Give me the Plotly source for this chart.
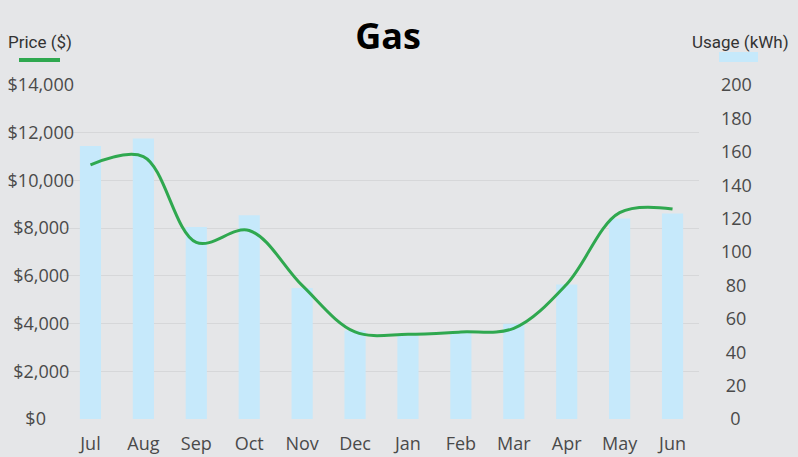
import plotly.graph_objects as go

# Données
months = ['Jul', 'Aug', 'Sep', 'Oct', 'Nov', 'Dec', 'Jan', 'Feb', 'Mar', 'Apr', 'May', 'Jun']
usage_kwh = [163.5, 168, 115, 122, 78.5, 53, 50, 52, 57, 80.5, 120, 123]
price_usd = [10650, 11000, 7400, 7900, 5600, 3650, 3550, 3650, 3800, 5650, 8650, 8800]

price_ticks = [0, 2000, 4000, 6000, 8000, 10000, 12000, 14000]
usage_ticks = [0, 20, 40, 60, 80, 100, 120, 140, 160, 180, 200]

bg = '#e5e6e8'
green = '#2fa84f'
blue = '#c6e9fb'
tick_font = dict(family='Open Sans', size=18, color='#4a4a4a')
NBSP = '\u00a0'

# Libellés centrés : on complète avec des espaces insécables
def price_label(v):
    txt = f'${v:,}'
    pad = round((7 - len(txt)) * 0.572 / 0.26 / 2) if len(txt) < 7 else 0
    return txt + NBSP * pad

def usage_label(v):
    txt = str(v)
    pad = round((3 - len(txt)) * 0.572 / 0.26 / 2)
    return NBSP * pad + txt

fig = go.Figure()

# Usage en barres (axe de droite), dessiné en dessous
fig.add_trace(go.Bar(name='Usage (kWh)', x=months, y=usage_kwh, marker_color=blue,
                     marker_line_width=0, width=0.4, yaxis='y'))

# Prix en courbe lissée (axe de gauche), dessiné au-dessus
fig.add_trace(go.Scatter(name='Price ($)', x=months, y=price_usd, mode='lines',
                         line=dict(color=green, width=3, shape='spline', smoothing=1),
                         yaxis='y2'))

fig.update_layout(
    width=798, height=457,
    margin=dict(l=64, r=99, t=85, b=38),
    paper_bgcolor=bg, plot_bgcolor=bg,
    showlegend=False,
    title=dict(text='<b>Gas</b>', x=388 / 798, xanchor='center', y=1 - 36 / 457, yanchor='middle',
               font=dict(family='Open Sans', size=36, color='#000000')),
    xaxis=dict(showgrid=False, showline=False, ticks='', tickfont=tick_font, zeroline=False,
               ticklabelstandoff=12, automargin=False),
    yaxis=dict(side='right', range=[0, 200], tickvals=usage_ticks,
               ticktext=[usage_label(v) for v in usage_ticks], showgrid=False,
               zeroline=False, showline=False, ticks='', tickfont=tick_font, ticklabelstandoff=21,
               automargin=False),
    yaxis2=dict(side='left', overlaying='y', range=[0, 14000], tickvals=price_ticks,
                ticktext=[price_label(v) for v in price_ticks],
                showgrid=True, gridcolor='#d6d7d9', gridwidth=1,
                zeroline=False, showline=False, ticks='', tickfont=tick_font, ticklabelstandoff=-11,
                automargin=False),
)

# Titres des axes façon légende
fig.add_annotation(text='Price ($)', xref='paper', yref='paper', x=(39.5 - 64) / 635, y=(419 - 42) / 334,
                   showarrow=False, xanchor='center', yanchor='middle',
                   font=dict(family='Roboto', size=17, color='#333333'))
fig.add_annotation(text='Usage (kWh)', xref='paper', yref='paper', x=(740 - 64) / 635, y=(419 - 42) / 334,
                   showarrow=False, xanchor='center', yanchor='middle',
                   font=dict(family='Roboto', size=17, color='#333333'))
fig.add_shape(type='line', xref='paper', yref='paper', x0=(19 - 64) / 635, x1=(60 - 64) / 635,
              y0=(419 - 60) / 334, y1=(419 - 60) / 334, line=dict(color=green, width=4))
fig.add_shape(type='rect', xref='paper', yref='paper', x0=(719 - 64) / 635, x1=(758 - 64) / 635,
              y0=(419 - 62) / 334, y1=(419 - 52) / 334, line_width=0, fillcolor=blue)

fig.write_html("out.html", config={'displayModeBar': False},
               post_script="document.body.style.margin='0';")
